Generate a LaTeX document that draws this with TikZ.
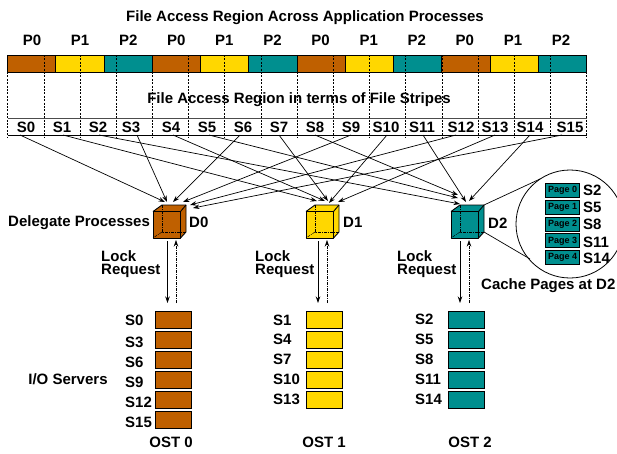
\documentclass[tikz,border=0pt]{standalone}
\usepackage{fontspec}
\setmainfont{Liberation Sans}
\definecolor{ostbrown}{HTML}{BF6000}
\definecolor{ostyellow}{HTML}{FFD700}
\definecolor{ostteal}{HTML}{008F8F}
\tikzset{
  lbl/.style={inner sep=0pt, font=\fontsize{15}{13.5}\selectfont\bfseries},
  ostbox/.style={draw=black, line width=0.9pt, minimum width=36pt, minimum height=17pt, inner sep=0pt},
  pagebox/.style={draw=black, line width=0.9pt, fill=ostteal, minimum width=34pt, minimum height=14pt, inner sep=0pt, font=\fontsize{9}{9}\selectfont\bfseries},
  segbox/.style={draw=black, line width=0.9pt, minimum width=48.25pt, minimum height=16.5pt, inner sep=0pt},
  tipline/.style={-{Stealth[length=6.5pt,width=4.5pt]}, line width=0.7pt},
}
\usetikzlibrary{arrows.meta}
% draw a cube: #1 colour, #2 left edge
\newcommand{\drawcube}[2]{
\fill[#1] (#2,238)--(#2,211.5)--(#2+9,205)--(#2+33,205)--(#2+33,232)--(#2+27.5,238)--cycle;
\draw[line width=0.5pt, dash pattern=on 3pt off 1pt on 1pt off 1pt] (#2+9,205)--(#2+9,232)--(#2+33,232);
\draw[line width=0.5pt, dash pattern=on 3pt off 1pt on 1pt off 1pt] (#2+9,232)--(#2,238);
\draw[line width=0.9pt, line join=round] (#2,238)--(#2,211.5)--(#2+27.5,211.5)--(#2+27.5,238)--cycle;
\draw[line width=0.9pt, line join=round] (#2,211.5)--(#2+9,205)--(#2+33,205)--(#2+33,232)--(#2+27.5,238);
\draw[line width=0.9pt] (#2+27.5,211.5)--(#2+33,205);
}
\begin{document}
\begin{tikzpicture}[x=1pt, y=-1pt]
\useasboundingbox (0,0) rectangle (617,453);
\node[lbl] (title) at (305,17.5) {File Access Region Across Application Processes};
% process bar
\foreach \i/\lab/\col in {0/P0/ostbrown,1/P1/ostyellow,2/P2/ostteal,3/P0/ostbrown,4/P1/ostyellow,5/P2/ostteal,6/P0/ostbrown,7/P1/ostyellow,8/P2/ostteal,9/P0/ostbrown,10/P1/ostyellow,11/P2/ostteal}{
  \node[segbox, fill=\col] (seg\i) at ({31.8+48.25*\i},63.8) {};
  \node[lbl] (proc\i) at ({32+48.1*\i},40) {\lab};
}
% stripe grid
\draw[line width=0.8pt, black!70] (7.7,118.5) -- (586.5,118.5);
\draw[line width=0.8pt] (7.7,135) -- (586.5,135);
\foreach \i in {0,...,16}{
  \draw[line width=0.7pt, dash pattern=on 2pt off 1.4pt] ({7.7+36.18*\i},55) -- ({7.7+36.18*\i},138);
}
\node[lbl] (stripes) at (299,100) {File Access Region in terms of File Stripes};
\foreach \i/\x/\xs in {0/26/20,1/62/63,2/98/99,3/131/137,4/171/173,5/207/209,6/243/240,7/279/279,8/315/315,9/351/351,10/386/387,11/422/423,12/461/456,13/495/495,14/530/530,15/570/562}{
  \node[lbl] (lab\i) at (\x,127) {S\i};
  \coordinate (s\i) at (\xs,135);
}
% arrow ends at the delegates
\coordinate (t0) at (165,202);
\coordinate (t3) at (167,202);
\coordinate (t6) at (173,202);
\coordinate (t9) at (183,202);
\coordinate (t12) at (190,205);
\coordinate (t15) at (193,208);
\coordinate (t1) at (317,201);
\coordinate (t4) at (325,201);
\coordinate (t7) at (328,201);
\coordinate (t10) at (329,203);
\coordinate (t13) at (338,202);
\coordinate (t2) at (460,204);
\coordinate (t5) at (458,198);
\coordinate (t8) at (458,195);
\coordinate (t11) at (466,202);
\coordinate (t14) at (469,201);
\foreach \i in {0,...,15}{
  \draw[tipline] (s\i) -- (t\i);
}
% delegates
\drawcube{ostbrown}{153}
\drawcube{ostyellow}{306}
\drawcube{ostteal}{451}
\node[lbl, anchor=west] (d0) at (189,222.5) {D0};
\node[lbl, anchor=west] (d1) at (343,222.5) {D1};
\node[lbl, anchor=west] (d2) at (488,223) {D2};
\node[lbl, anchor=west] (deleg) at (8,222.5) {Delegate Processes};
% lock request
\foreach \n/\x/\xa/\xb in {0/101/167.5/176,1/255/318/327,2/397/460/469}{
  \node[lbl, anchor=north west, align=left] (lock\n) at (\x,250) {Lock\\Request};
  \coordinate (la\n) at (\xa,241);
  \coordinate (lb\n) at (\xa,303);
  \coordinate (ua\n) at (\xb,303);
  \coordinate (ub\n) at (\xb,240);
  \draw[-{Stealth[length=6.5pt,width=4.5pt]}, line width=0.8pt] (la\n) -- (lb\n);
  \draw[-{Stealth[length=6.5pt,width=4.5pt]}, line width=0.6pt, dash pattern=on 3pt off 1pt on 1pt off 1pt] (ua\n) -- (ub\n);
}
% servers
\foreach \i/\lab/\ly in {0/S0/320,1/S3/342,2/S6/362,3/S9/382,4/S12/402,5/S15/422}{
  \node[ostbox, fill=ostbrown] (ost0b\i) at (173.7,{319.5+20*\i}) {};
  \node[lbl, anchor=west] (ost0l\i) at (125,\ly) {\lab};
}
\foreach \i/\lab/\ly in {0/S1/320,1/S4/339,2/S7/359,3/S10/379,4/S13/399}{
  \node[ostbox, fill=ostyellow] (ost1b\i) at (324.3,{319.5+20*\i}) {};
  \node[lbl, anchor=west] (ost1l\i) at (273,\ly) {\lab};
}
\foreach \i/\lab/\ly in {0/S2/319,1/S5/339,2/S8/359,3/S11/379,4/S14/399}{
  \node[ostbox, fill=ostteal] (ost2b\i) at (466.3,{319.5+20*\i}) {};
  \node[lbl, anchor=west] (ost2l\i) at (415,\ly) {\lab};
}
\node[lbl] (ost0) at (171,442) {OST 0};
\node[lbl] (ost1) at (324,442) {OST 1};
\node[lbl] (ost2) at (470,442) {OST 2};
\node[lbl] (servers) at (68,379) {I/O Servers};
% cache pages
\draw[line width=0.8pt] (570,224) circle (54);
\coordinate (cachea) at (540,179);
\coordinate (cacheb) at (530,259);
\coordinate (cubea) at (484,205);
\coordinate (cubeb) at (484,232);
\draw[line width=0.7pt] (cubea) -- (cachea);
\draw[line width=0.7pt] (cubeb) -- (cacheb);
\foreach \i/\lab/\ly in {0/S2/190,1/S5/207,2/S8/224,3/S11/242,4/S14/258}{
  \node[pagebox] (page\i) at (562.5,{190.5+16.8*\i}) {Page \i};
  \node[lbl, anchor=west] (pagel\i) at (583,\ly) {\lab};
}
\node[lbl, anchor=west] (cache) at (481,286) {Cache Pages at D2};
\end{tikzpicture}
\end{document}
